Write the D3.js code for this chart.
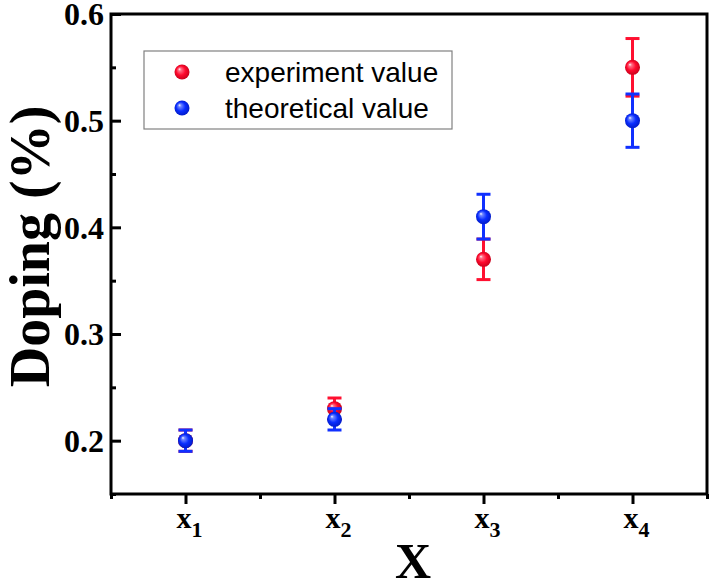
<!DOCTYPE html>
<html>
<head>
<meta charset="utf-8">
<script src="https://cdn.jsdelivr.net/npm/d3@7"></script>
<style>
html,body{margin:0;padding:0;background:#fff;}
svg{display:block;}
</style>
</head>
<body>
<svg id="chart" width="712" height="583"></svg>
<script>
// ---- data ----
const categories = [1, 2, 3, 4];
const categoryLabels = ["1", "2", "3", "4"];
const experimentValues = [0.20, 0.23, 0.37, 0.55];
const experimentErrors = [0.010, 0.010, 0.019, 0.027];
const theoreticalValues = [0.20, 0.22, 0.41, 0.50];
const theoreticalErrors = [0.010, 0.010, 0.021, 0.025];
const yTicks = [0.2, 0.3, 0.4, 0.5, 0.6];
const yMinorTicks = [0.15, 0.25, 0.35, 0.45, 0.55];
const xMinorTicks = [0.5, 1.5, 2.5, 3.5, 4.5];
const seriesNames = ["experiment value", "theoretical value"];

const svg = d3.select("#chart");
const M = {left: 111, right: 707, top: 14, bottom: 494};

const x = d3.scaleLinear().domain([0.5, 4.5]).range([M.left, M.right]);
const y = d3.scaleLinear().domain([0.15, 0.6]).range([M.bottom, M.top]);

// gradients for spheres
const defs = svg.append("defs");
function sphere(id, light, base, dark) {
  const g = defs.append("radialGradient").attr("id", id)
    .attr("cx", "50%").attr("cy", "50%").attr("r", "55%")
    .attr("fx", "32%").attr("fy", "30%");
  g.append("stop").attr("offset", "0%").attr("stop-color", "#ffffff");
  g.append("stop").attr("offset", "18%").attr("stop-color", light);
  g.append("stop").attr("offset", "55%").attr("stop-color", base);
  g.append("stop").attr("offset", "100%").attr("stop-color", dark);
}
sphere("gradRed", "#ff6f86", "#ff0a2e", "#c00018");
sphere("gradBlue", "#6f86ff", "#0a2eff", "#0018c0");

const series = [
  {name: seriesNames[0], vals: experimentValues, errs: experimentErrors, color: "#ff1030", grad: "url(#gradRed)"},
  {name: seriesNames[1], vals: theoreticalValues, errs: theoreticalErrors, color: "#1030ff", grad: "url(#gradBlue)"}
];

// axes
const bottomMajor = d3.axisBottom(x).tickValues(categories).tickSize(10).tickFormat("");
const bottomMinor = d3.axisBottom(x).tickValues(xMinorTicks).tickSize(5).tickFormat("");
const leftMajor = d3.axisLeft(y).tickValues(yTicks).tickSize(-10).tickFormat("");
const leftMinor = d3.axisLeft(y).tickValues(yMinorTicks).tickSize(-5).tickFormat("");

function styleAxis(g) {
  g.select(".domain").remove();
  g.selectAll(".tick line").attr("stroke", "#000").attr("stroke-width", 3);
}
svg.append("g").attr("transform", `translate(0,${M.bottom})`).call(bottomMajor).call(styleAxis);
svg.append("g").attr("transform", `translate(0,${M.bottom})`).call(bottomMinor).call(styleAxis);
svg.append("g").attr("transform", `translate(${M.left},0)`).call(leftMajor).call(styleAxis);
svg.append("g").attr("transform", `translate(${M.left},0)`).call(leftMinor).call(styleAxis);

// frame
svg.append("rect").attr("x", M.left).attr("y", M.top)
  .attr("width", M.right - M.left).attr("height", M.bottom - M.top)
  .attr("fill", "none").attr("stroke", "#000").attr("stroke-width", 3);

// y tick labels
svg.append("g").selectAll("text").data(yTicks).join("text")
  .attr("x", 104).attr("y", d => y(d)).attr("dy", "0.35em")
  .attr("text-anchor", "end")
  .attr("font-family", "'Liberation Serif', 'Times New Roman', serif")
  .attr("font-weight", "bold").attr("font-size", 32)
  .text(d => d.toFixed(1));

// x tick labels x with subscript
const xl = svg.append("g").selectAll("text").data(categories).join("text")
  .attr("x", d => x(d) - 9).attr("y", 528)
  .attr("font-family", "'Liberation Serif', 'Times New Roman', serif")
  .attr("font-weight", "bold").attr("font-size", 30);
xl.append("tspan").text("x");
xl.append("tspan").attr("dy", 9).attr("font-size", 22).text((d, i) => categoryLabels[i]);

// axis titles
svg.append("text").attr("x", 413).attr("y", 578).attr("text-anchor", "middle")
  .attr("font-family", "'Liberation Serif', 'Times New Roman', serif")
  .attr("font-weight", "bold").attr("font-size", 50).text("X");
svg.append("text").attr("transform", `translate(49,${(98 + 395) / 2}) rotate(-90)`)
  .attr("text-anchor", "middle")
  .attr("font-family", "'Liberation Serif', 'Times New Roman', serif")
  .attr("font-weight", "bold").attr("font-size", 56).text("Doping (%)");

// series
const capW = 7;
series.forEach(s => {
  const g = svg.append("g");
  const data = categories.map((c, i) => ({c, v: s.vals[i], e: s.errs[i]}));
  g.selectAll("line.err").data(data).join("line")
    .attr("x1", d => x(d.c)).attr("x2", d => x(d.c))
    .attr("y1", d => y(d.v - d.e)).attr("y2", d => y(d.v + d.e))
    .attr("stroke", s.color).attr("stroke-width", 3);
  g.selectAll("line.capT").data(data).join("line")
    .attr("x1", d => x(d.c) - capW).attr("x2", d => x(d.c) + capW)
    .attr("y1", d => y(d.v + d.e)).attr("y2", d => y(d.v + d.e))
    .attr("stroke", s.color).attr("stroke-width", 3);
  g.selectAll("line.capB").data(data).join("line")
    .attr("x1", d => x(d.c) - capW).attr("x2", d => x(d.c) + capW)
    .attr("y1", d => y(d.v - d.e)).attr("y2", d => y(d.v - d.e))
    .attr("stroke", s.color).attr("stroke-width", 3);
  g.selectAll("circle").data(data).join("circle")
    .attr("cx", d => x(d.c)).attr("cy", d => y(d.v)).attr("r", 7.5)
    .attr("fill", s.grad);
});

// legend
const lg = svg.append("g");
lg.append("rect").attr("x", 144).attr("y", 51).attr("width", 308).attr("height", 78)
  .attr("fill", "#fff").attr("stroke", "#808080").attr("stroke-width", 1.2);
series.forEach((s, i) => {
  const cy = 72 + i * 36;
  lg.append("circle").attr("cx", 182).attr("cy", cy).attr("r", 7.5).attr("fill", s.grad);
  lg.append("text").attr("x", 225).attr("y", cy).attr("dy", "0.35em")
    .attr("font-family", "'Liberation Sans', Arial, sans-serif")
    .attr("font-size", 28).text(s.name);
});
</script>
</body>
</html>
